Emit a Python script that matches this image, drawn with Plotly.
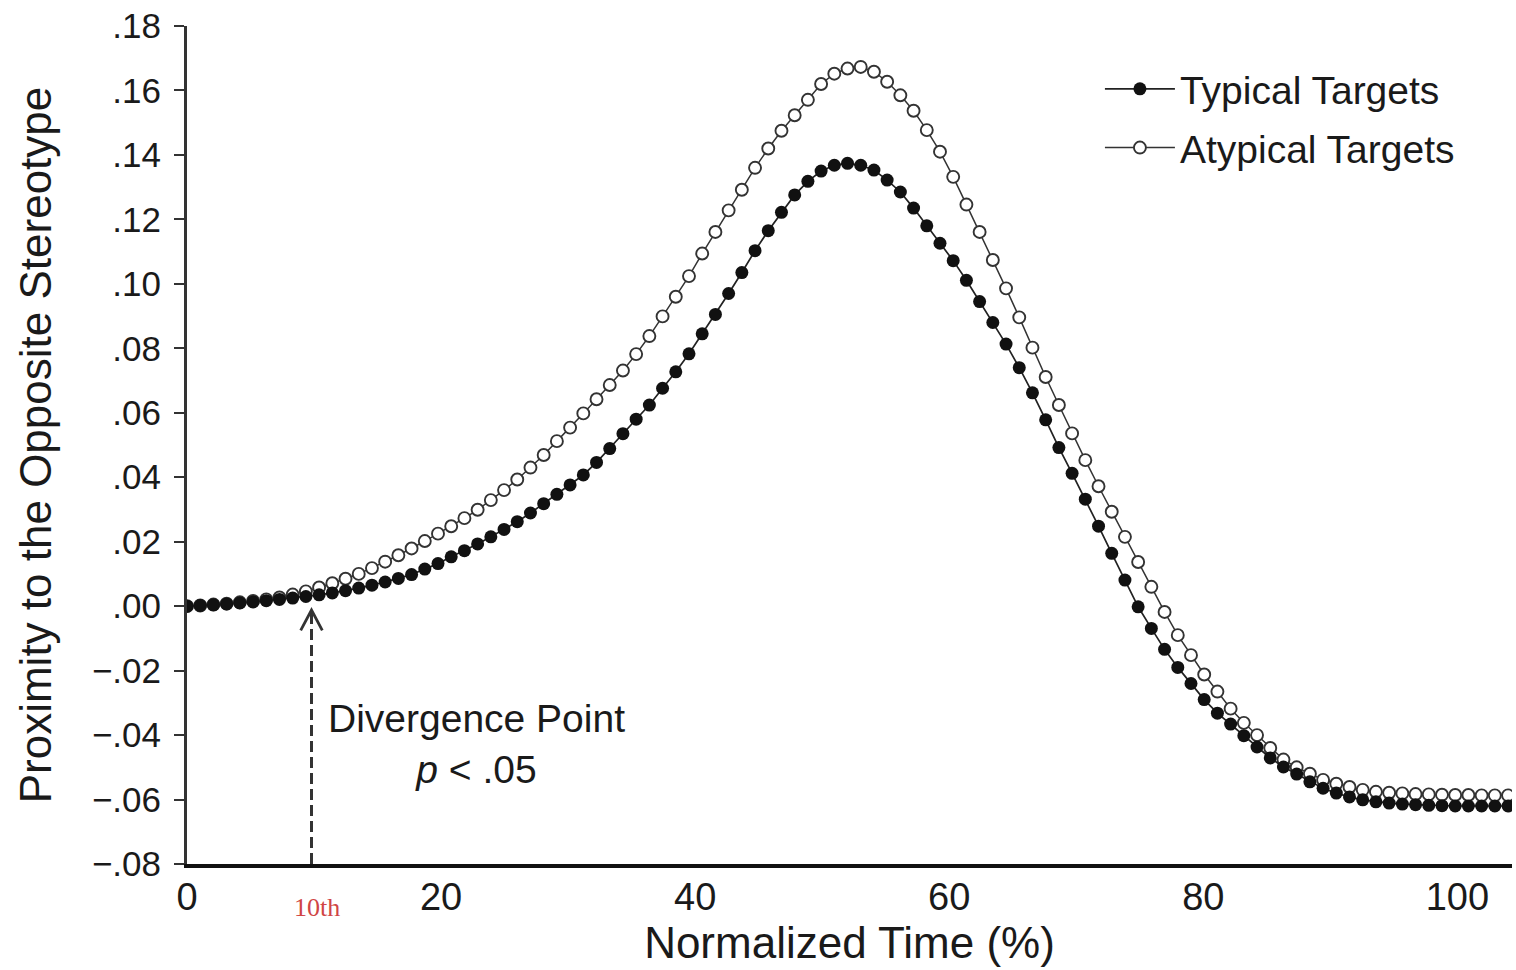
import plotly.graph_objects as go

# Time steps (101 normalized samples)
time_step = list(range(101))

typical = [
    0.0000, 0.0002, 0.0004, 0.0007, 0.0010, 0.0013, 0.0017, 0.0021, 0.0025, 0.0030,
    0.0035, 0.0041, 0.0048, 0.0056, 0.0065, 0.0075, 0.0086, 0.0098, 0.0115, 0.0132,
    0.0153, 0.0172, 0.0193, 0.0215, 0.0238, 0.0262, 0.0289, 0.0318, 0.0347, 0.0376,
    0.0407, 0.0446, 0.0489, 0.0535, 0.0580, 0.0624, 0.0676, 0.0727, 0.0783, 0.0845,
    0.0905, 0.0970, 0.1035, 0.1103, 0.1165, 0.1222, 0.1276, 0.1318, 0.1350, 0.1368,
    0.1374, 0.1368, 0.1353, 0.1322, 0.1285, 0.1235, 0.1180, 0.1126, 0.1072, 0.1011,
    0.0945, 0.0880, 0.0813, 0.0740, 0.0662, 0.0578, 0.0492, 0.0412, 0.0332, 0.0248,
    0.0164, 0.0081, -0.0002, -0.0069, -0.0134, -0.0190, -0.0240, -0.0290, -0.0332, -0.0366,
    -0.0402, -0.0437, -0.0471, -0.0499, -0.0521, -0.0545, -0.0565, -0.0580, -0.0592, -0.0601,
    -0.0607, -0.0611, -0.0614, -0.0616, -0.0618, -0.0619, -0.0620, -0.0620, -0.0620, -0.0620,
    -0.0620,
]

atypical = [
    0.0000, 0.0002, 0.0005, 0.0008, 0.0012, 0.0016, 0.0021, 0.0027, 0.0036, 0.0046,
    0.0058, 0.0071, 0.0085, 0.0100, 0.0118, 0.0138, 0.0158, 0.0179, 0.0202, 0.0225,
    0.0248, 0.0273, 0.0299, 0.0329, 0.0360, 0.0393, 0.0430, 0.0469, 0.0512, 0.0554,
    0.0598, 0.0642, 0.0686, 0.0731, 0.0782, 0.0838, 0.0899, 0.0960, 0.1024, 0.1094,
    0.1161, 0.1228, 0.1292, 0.1360, 0.1420, 0.1475, 0.1523, 0.1571, 0.1620, 0.1652,
    0.1668, 0.1673, 0.1658, 0.1627, 0.1585, 0.1537, 0.1477, 0.1410, 0.1332, 0.1246,
    0.1161, 0.1074, 0.0986, 0.0896, 0.0802, 0.0711, 0.0624, 0.0536, 0.0453, 0.0372,
    0.0293, 0.0215, 0.0137, 0.0060, -0.0018, -0.0090, -0.0152, -0.0212, -0.0265, -0.0318,
    -0.0362, -0.0400, -0.0440, -0.0476, -0.0500, -0.0520, -0.0539, -0.0551, -0.0561, -0.0570,
    -0.0576, -0.0579, -0.0581, -0.0583, -0.0584, -0.0585, -0.0586, -0.0586, -0.0587, -0.0587,
    -0.0587,
]

series_names = ["Typical Targets", "Atypical Targets"]
x_tick_vals = [0, 20, 40, 60, 80, 100]
x_tick_text = ["0", "20", "40", "60", "80", "100"]
y_tick_vals = [0.18, 0.16, 0.14, 0.12, 0.10, 0.08, 0.06, 0.04, 0.02, 0.00,
               -0.02, -0.04, -0.06, -0.08]
y_tick_text = [".18", ".16", ".14", ".12", ".10", ".08", ".06", ".04", ".02", ".00",
               "\u2212.02", "\u2212.04", "\u2212.06", "\u2212.08"]
divergence_x = 9.8  # position on the visible time axis
divergence_label = "10th"

FONT = "Liberation Sans, Arial, sans-serif"

fig = go.Figure()
# atypical drawn first so the filled (typical) markers sit on top
fig.add_trace(go.Scatter(
    x=time_step, y=atypical, name=series_names[1], legendgroup="b", legendrank=2,
    xaxis="x2", yaxis="y",
    mode="lines+markers",
    line=dict(color="#333333", width=1.5),
    marker=dict(symbol="circle", size=12, color="white",
                line=dict(width=1.9, color="#333333")),
))
fig.add_trace(go.Scatter(
    x=time_step, y=typical, name=series_names[0], legendgroup="a", legendrank=1,
    xaxis="x2", yaxis="y",
    mode="lines+markers",
    line=dict(color="#222222", width=1.7),
    marker=dict(symbol="circle", size=13, color="#111111", line=dict(width=0)),
))

# dashed divergence arrow
fig.add_shape(type="line", xref="x", yref="y",
              x0=divergence_x, x1=divergence_x, y0=-0.08, y1=-0.0015,
              line=dict(color="#333333", width=3, dash="11px,5px"))
fig.add_shape(type="path", xref="x", yref="y",
              path=(f"M {divergence_x-0.85},-0.0075 L {divergence_x},-0.0012 "
                    f"L {divergence_x+0.85},-0.0075"),
              line=dict(color="#333333", width=2.8))

fig.add_annotation(x=22.8, y=-0.0427, xref="x", yref="y",
                   text="Divergence Point<br><i>p</i> < .05", showarrow=False,
                   align="center", font=dict(family=FONT, size=39, color="#1a1a1a"))
fig.add_annotation(x=divergence_x + 0.4, y=-0.0525, xref="x", yref="paper",
                   yanchor="middle", xanchor="center",
                   text=divergence_label, showarrow=False,
                   font=dict(family="Liberation Serif, DejaVu Serif, serif", size=26,
                             color="#d04545"))

fig.update_layout(
    width=1516, height=970,
    margin=dict(l=187, r=4, t=26, b=106),
    plot_bgcolor="white", paper_bgcolor="white",
    font=dict(family=FONT, color="#1a1a1a"),
    showlegend=True,
    legend=dict(x=0.689, y=0.963, xanchor="left", yanchor="top",
                font=dict(family=FONT, size=39, color="#1a1a1a"),
                bgcolor="rgba(0,0,0,0)", tracegroupgap=5, itemwidth=70),
    xaxis=dict(range=[0, 104.3], tickvals=x_tick_vals, ticktext=x_tick_text,
               showline=True, linewidth=4, linecolor="#111111", ticks="",
               showgrid=False, zeroline=False, ticklabelstandoff=-4,
               tickfont=dict(family=FONT, size=38, color="#1a1a1a"),
               title=dict(text="Normalized Time (%)", standoff=4,
                          font=dict(family=FONT, size=44, color="#1a1a1a"))),
    xaxis2=dict(range=[0, 100.3], overlaying="x", anchor="y", visible=False),
    yaxis=dict(range=[-0.08, 0.18], tickvals=y_tick_vals, ticktext=y_tick_text,
               showline=True, linewidth=3, linecolor="#333333",
               ticks="outside", ticklen=10, tickwidth=2, tickcolor="#333333",
               showgrid=False, zeroline=False, ticklabelstandoff=6,
               tickfont=dict(family=FONT, size=35, color="#1a1a1a"),
               title=dict(text="Proximity to the Opposite Stereotype", standoff=27,
                          font=dict(family=FONT, size=44, color="#1a1a1a"))),
)

fig.write_html("out.html")
